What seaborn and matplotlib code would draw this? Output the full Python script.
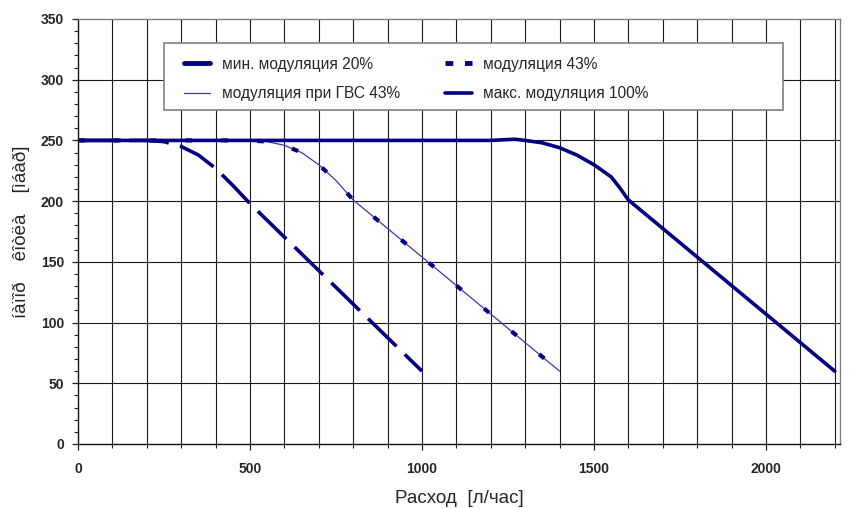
import numpy as np
import pandas as pd
import seaborn as sns
import matplotlib
matplotlib.use("Agg")
import matplotlib.pyplot as plt
from matplotlib.lines import Line2D
from matplotlib.patches import Rectangle
from matplotlib.ticker import MultipleLocator

# ---- data ----
min20_x = [0, 200, 250, 300, 350, 400, 450, 500, 1000]
min20_y = [250, 250, 249, 245, 238, 227, 213, 198, 60]

mod43_x = [0, 500, 550, 600, 650, 700, 750, 800, 1400]
mod43_y = [250, 250, 249, 246, 240, 230, 217, 201, 60]

gvs43_x = mod43_x
gvs43_y = mod43_y

max100_x = [0, 1200, 1270, 1300, 1350, 1400, 1450, 1500, 1550, 1575, 1600, 2200]
max100_y = [250, 250, 251, 250, 248, 244, 238, 230, 220, 211, 201, 60]

labels = ["мин. модуляция 20%", "модуляция 43%", "модуляция при ГВС 43%", "макс. модуляция 100%"]
xlabel = "Расход  [л/час]"
ylabel = "íàïîð    êîòëà    [ìáàð]"

sns.set_theme(style="white")
plt.rcParams['font.family'] = ['Liberation Sans', 'DejaVu Sans']

navy = "#000080"
thin_blue = "#3a3ab0"

fig = plt.figure(figsize=(8.58, 5.08), dpi=100)
ax = fig.add_axes([0.0909, 0.126, 0.888, 0.8366])

sns.lineplot(x=gvs43_x, y=gvs43_y, ax=ax, color=thin_blue, linewidth=0.9, sort=False)
sns.lineplot(x=mod43_x, y=mod43_y, ax=ax, color=navy, linewidth=3.0, sort=False,
             linestyle=(0, (1.6, 7.0)))
sns.lineplot(x=min20_x, y=min20_y, ax=ax, color=navy, linewidth=2.6, sort=False,
             linestyle=(0, (11.0, 3.2)))
sns.lineplot(x=max100_x, y=max100_y, ax=ax, color=navy, linewidth=2.6, sort=False)

ax.set_xlim(0, 2215)
ax.set_ylim(0, 350)
ax.xaxis.set_major_locator(MultipleLocator(500))
ax.xaxis.set_minor_locator(MultipleLocator(100))
ax.yaxis.set_major_locator(MultipleLocator(50))
ax.yaxis.set_minor_locator(MultipleLocator(10))

ax.grid(False)
for xv in range(100, 2300, 100):
    if xv < 2215:
        ax.axvline(xv, color="#1a1a1a", linewidth=0.8, zorder=0.5)
for yv in range(50, 350, 50):
    ax.axhline(yv, color="#1a1a1a", linewidth=0.8, zorder=0.5)

ax.tick_params(axis='both', which='major', direction='out', length=4, width=0.9,
               color='#222222', labelsize=10, bottom=True, left=True)
ax.tick_params(axis='x', which='major', pad=9)
ax.tick_params(axis='y', which='major', pad=6)
ax.tick_params(axis='both', which='minor', direction='out', length=3, width=0.8,
               color='#222222', bottom=True, left=True)
for lab in ax.get_xticklabels() + ax.get_yticklabels():
    lab.set_fontweight('bold')

for s in ['left', 'bottom']:
    ax.spines[s].set_color('#111111')
    ax.spines[s].set_linewidth(1.0)
for s in ['top', 'right']:
    ax.spines[s].set_color('#808080')
    ax.spines[s].set_linewidth(1.0)

ax.set_xlabel(xlabel, fontsize=13.5, labelpad=10)
ax.set_ylabel(ylabel, fontsize=13.5, labelpad=8)

# legend frame (drawn as a box in axes coordinates)
box = Rectangle((0.113, 0.786), 0.812, 0.158, transform=ax.transAxes,
                facecolor='white', edgecolor='#808080', linewidth=1.2, zorder=4)
ax.add_patch(box)

handles = [
    Line2D([0], [0], color=navy, linewidth=3.5),
    Line2D([0], [0], color=thin_blue, linewidth=0.9),
    Line2D([0], [0], color=navy, linewidth=3.5, linestyle=(0, (1.6, 2.4))),
    Line2D([0], [0], color=navy, linewidth=2.6),
]
hl = [labels[0], labels[2], labels[1], labels[3]]
leg = ax.legend(handles, hl, ncol=2, loc='upper left',
                bbox_to_anchor=(0.133, 0.922), fontsize=11.2, frameon=False,
                handlelength=1.7, handletextpad=0.75, columnspacing=2.9,
                borderaxespad=0, labelspacing=0.92, borderpad=0.3)
leg.set_zorder(5)

fig.savefig("out.png", dpi=100)
